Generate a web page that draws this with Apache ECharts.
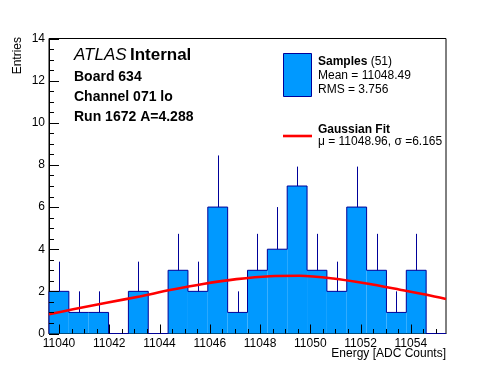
<!DOCTYPE html>
<html>
<head>
<meta charset="utf-8">
<script src="https://cdn.jsdelivr.net/npm/echarts@6/dist/echarts.min.js"></script>
<style>
html,body{margin:0;padding:0;background:#fff;}
#chart{width:496px;height:372px;}
</style>
</head>
<body>
<div id="chart"></div>
<script>
// ---- data ----
const xMin = 11039.6;
const xMax = 11055.4;
const counts = [2, 1, 1, 0, 2, 0, 3, 2, 6, 1, 3, 4, 7, 3, 2, 6, 3, 1, 3, 0];
const errors = [1.41, 1, 1, 0, 1.41, 0, 1.73, 1.41, 2.45, 1, 1.73, 2, 0.92, 1.73, 1.41, 1.92, 1.73, 1, 1.73, 0];
const fitX = [11039.6, 11040.56, 11041.89, 11043.21, 11044.41, 11045.73, 11047.06, 11048.39, 11049.58, 11050.91, 11052.24, 11053.57, 11054.63, 11055.4];
const fitY = [0.91, 1.15, 1.46, 1.76, 2.06, 2.35, 2.58, 2.72, 2.74, 2.61, 2.37, 2.08, 1.84, 1.64];
const xTickLabels = [11040, 11042, 11044, 11046, 11048, 11050, 11052, 11054];
const xMinorTicks = [11040.5, 11041, 11041.5, 11042.5, 11043, 11043.5, 11044.5, 11045, 11045.5, 11046.5, 11047, 11047.5, 11048.5, 11049, 11049.5, 11050.5, 11051, 11051.5, 11052.5, 11053, 11053.5, 11054.5, 11055];
const yTickLabels = [0, 2, 4, 6, 8, 10, 12, 14];
const yMinorTicks = [0.5, 1, 1.5, 2.5, 3, 3.5, 4.5, 5, 5.5, 6.5, 7, 7.5, 8.5, 9, 9.5, 10.5, 11, 11.5, 12.5, 13, 13.5];
const textLines = ['Board 634', 'Channel 071 lo', 'Run 1672 A=4.288'];

// ---- derived ----
const binW = (xMax - xMin) / counts.length;
const bins = counts.map((c, i) => [xMin + i * binW, xMin + (i + 1) * binW, c, errors[i]]);
const outline = [];
bins.forEach((b, i) => {
  if (i === 0) outline.push([b[0], 0]);
  outline.push([b[0], b[2]]);
  outline.push([b[1], b[2]]);
  if (i === bins.length - 1) outline.push([b[1], 0]);
});
const fitData = fitX.map((x, i) => [x, fitY[i]]);
// tick items: [value, kind] kind 0=x major,1=x minor,2=y major,3=y minor
const tickItems = [].concat(
  xTickLabels.map(v => [v, 0]), xMinorTicks.map(v => [v, 1]),
  yTickLabels.map(v => [v, 2]), yMinorTicks.map(v => [v, 3])
);

const FONT = '"Liberation Sans", Arial, Helvetica, sans-serif';
const FILL = '#0099ff';
const NAVY = '#000099';
const TICK_LEN = [9, 4.5, 10, 5];

const chart = echarts.init(document.getElementById('chart'), null, {renderer: 'canvas'});
chart.setOption({
  animation: false,
  backgroundColor: '#fff',
  grid: {left: 49, right: 50, top: 38.5, bottom: 38.5, show: true, borderColor: '#000', borderWidth: 1, backgroundColor: 'transparent'},
  xAxis: {
    type: 'value', min: xMin, max: xMax,
    axisLine: {show: true, onZero: false, lineStyle: {color: '#000', width: 1}},
    axisTick: {show: false},
    axisLabel: {show: true, customValues: xTickLabels, formatter: v => String(v), color: '#000', fontSize: 12, fontFamily: FONT, margin: 4},
    splitLine: {show: false}
  },
  yAxis: {
    type: 'value', min: 0, max: 14, interval: 2,
    axisLine: {show: true, lineStyle: {color: '#000'}},
    axisTick: {show: false},
    axisLabel: {color: '#000', fontSize: 12, fontFamily: FONT, margin: 4},
    splitLine: {show: false}
  },
  series: [
    {
      name: 'Samples', type: 'custom', z: 2,
      data: bins,
      renderItem: function (params, api) {
        const c = api.value(2);
        if (!c) return null;
        const p0 = api.coord([api.value(0), c]);
        const p1 = api.coord([api.value(1), 0]);
        return {type: 'rect', shape: {x: p0[0], y: p0[1], width: p1[0] - p0[0], height: p1[1] - p0[1]}, style: {fill: FILL}};
      }
    },
    {
      name: 'Samples outline', type: 'line', z: 3, data: outline, symbol: 'none',
      lineStyle: {color: NAVY, width: 1}, silent: true
    },
    {
      name: 'Errors', type: 'custom', z: 4,
      data: bins,
      renderItem: function (params, api) {
        const c = api.value(2), e = api.value(3);
        if (!c) return null;
        const xc = (api.value(0) + api.value(1)) / 2;
        const a = api.coord([xc, c]);
        const b = api.coord([xc, c + e]);
        return {type: 'line', shape: {x1: Math.round(a[0]) + 0.5, y1: a[1], x2: Math.round(b[0]) + 0.5, y2: b[1]}, style: {stroke: NAVY, lineWidth: 1}};
      }
    },
    {
      name: 'Gaussian Fit', type: 'line', z: 6, data: fitData, symbol: 'none', smooth: 0.3,
      lineStyle: {color: '#ff0000', width: 2.6}
    },
    {
      name: 'Axis ticks', type: 'custom', z: 7, silent: true,
      data: tickItems,
      renderItem: function (params, api) {
        const v = api.value(0), k = api.value(1);
        const len = TICK_LEN[k];
        if (k < 2) {
          const p = api.coord([v, 0]);
          const x = Math.round(p[0]) + 0.5;
          return {type: 'line', shape: {x1: x, y1: p[1], x2: x, y2: p[1] - len}, style: {stroke: '#000', lineWidth: 1}};
        }
        const p = api.coord([xMin, v]);
        const y = Math.round(p[1]) + 0.5;
        return {type: 'line', shape: {x1: p[0], y1: y, x2: p[0] + len, y2: y}, style: {stroke: '#000', lineWidth: 1}};
      }
    }
  ],
  graphic: [
    {type: 'text', left: 74, top: 47, style: {text: '{i|ATLAS} {b|Internal}', rich: {i: {fontStyle: 'italic', fontSize: 17, fontFamily: FONT, fill: '#000'}, b: {fontWeight: 'bold', fontSize: 17, fontFamily: FONT, fill: '#000'}}}},
    {type: 'text', x: 74, y: 76.7, style: {text: textLines[0], font: 'bold 14px ' + FONT, fill: '#000', verticalAlign: 'middle'}},
    {type: 'text', x: 74, y: 96.7, style: {text: textLines[1], font: 'bold 14px ' + FONT, fill: '#000', verticalAlign: 'middle'}},
    {type: 'text', x: 74, y: 116.7, style: {text: textLines[2], font: 'bold 14px ' + FONT, fill: '#000', verticalAlign: 'middle'}},
    {type: 'rect', shape: {x: 283.5, y: 53.5, width: 28, height: 43}, style: {fill: FILL, stroke: NAVY, lineWidth: 1}},
    {type: 'text', x: 318, y: 62, style: {text: '{b|Samples} {n|(51)}', rich: {b: {fontWeight: 'bold', fontSize: 12, fontFamily: FONT}, n: {fontSize: 12, fontFamily: FONT}}, fill: '#000', verticalAlign: 'middle'}},
    {type: 'text', x: 318, y: 76, style: {text: 'Mean = 11048.49', font: '12px ' + FONT, fill: '#000', verticalAlign: 'middle'}},
    {type: 'text', x: 318, y: 90, style: {text: 'RMS = 3.756', font: '12px ' + FONT, fill: '#000', verticalAlign: 'middle'}},
    {type: 'line', shape: {x1: 283, y1: 136, x2: 312, y2: 136}, style: {stroke: '#ff0000', lineWidth: 2.6}},
    {type: 'text', x: 318, y: 129.5, style: {text: 'Gaussian Fit', font: 'bold 12px ' + FONT, fill: '#000', verticalAlign: 'middle'}},
    {type: 'text', x: 318, y: 142, style: {text: 'μ = 11048.96, σ =6.165', font: '12px ' + FONT, fill: '#000', verticalAlign: 'middle'}},
    {type: 'text', x: 18, y: 37, rotation: Math.PI / 2, style: {text: 'Entries', font: '12px ' + FONT, fill: '#000', align: 'right', verticalAlign: 'middle'}},
    {type: 'text', x: 446, y: 354, style: {text: 'Energy [ADC Counts]', font: '12px ' + FONT, fill: '#000', align: 'right', verticalAlign: 'middle'}}
  ]
});
</script>
</body>
</html>
